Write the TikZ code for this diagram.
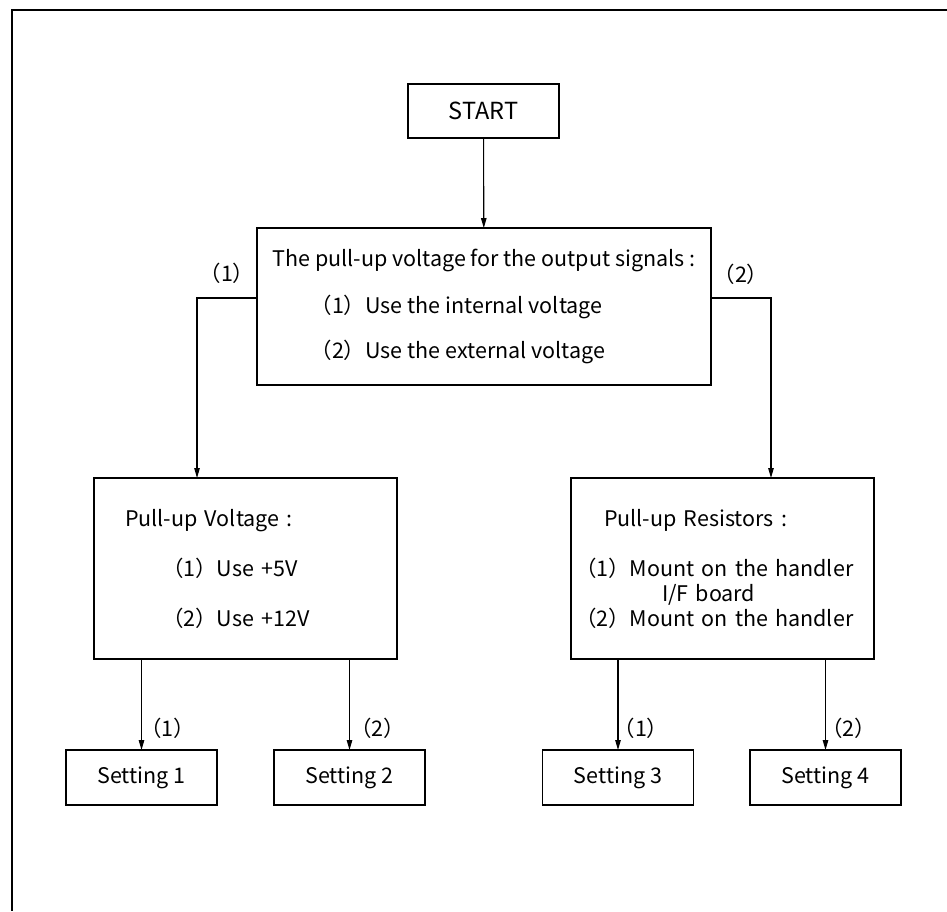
\documentclass[tikz,border=0pt]{standalone}
\usepackage{fontspec}
\setmainfont{Noto Sans CJK JP}
\usetikzlibrary{positioning,arrows.meta,calc}

\begin{document}
\begin{tikzpicture}[x=1pt, y=-1pt,
    every node/.style={font=\fontsize{21.5}{25}\selectfont},
    box/.style={draw, line width=1.4pt, inner sep=0pt, outer sep=0pt, align=left},
    setbox/.style={box, minimum width=151pt, minimum height=55pt},
    arr/.style={-{Triangle[length=10pt,width=5.5pt]}, line width=1.1pt},
    lbl/.style={inner sep=0pt}]
  \useasboundingbox (0,0) rectangle (947,911);
  % Frame
  \draw[line width=2.6pt] (947,10) -- (12,10) -- (12,911);
  % Start and first choice
  \node[box, minimum width=151pt, minimum height=54pt, font=\fontsize{23.5}{28}\selectfont] (start) at (483.5,111) {START};
  \node[box, minimum width=454pt, minimum height=157pt] (pullup) at (484,306.5)
    {The pull-up voltage for the output signals :\\[22pt]
     \hspace*{38pt}（1）Use the internal voltage\\[20pt]
     \hspace*{38pt}（2）Use the external voltage};
  % Second level
  \node[box, minimum width=303pt, minimum height=181pt, text width=241pt] (volt) at (245.5,568.5)
    {Pull-up Voltage :\\[25pt]
     \hspace*{37pt}（1）Use +5V\\[25pt]
     \hspace*{37pt}（2）Use +12V};
  \node[box, minimum width=303pt, minimum height=181pt, text width=295pt] (res) at (722.5,568.5)
    {\hspace*{29pt}Pull-up Resistors :\\[25pt]
     （1）Mount on the handler\\
     \hspace*{87pt}I/F board\\
     （2）Mount on the handler};
  % Settings
  \node[setbox] (set1) at (141.5,777.5) {Setting 1};
  \node[setbox] (set2) at (349.5,777.5) {Setting 2};
  \node[setbox] (set3) at (618,777.5) {Setting 3};
  \node[setbox] (set4) at (825.5,777.5) {Setting 4};
  % Connectors
  \draw[arr] (start) -- (pullup);
  \draw[arr] ([yshift=8.5pt]pullup.west) -| ($(volt.north west)!0.34!(volt.north east)$)
    node[lbl, pos=0.25, yshift=25pt] {（1）};
  \draw[arr] ([yshift=8.5pt]pullup.east) -| ($(res.north west)!0.66!(res.north east)$)
    node[lbl, pos=0.25, yshift=24pt] {（2）};
  \draw[arr] (volt.south -| set1.north) -- (set1.north) node[lbl, pos=0.76, xshift=26pt] {（1）};
  \draw[arr] (volt.south -| set2.north) -- (set2.north) node[lbl, pos=0.76, xshift=28pt] {（2）};
  \draw[arr] (res.south -| set3.north) -- (set3.north) node[lbl, pos=0.76, xshift=23pt] {（1）};
  \draw[arr] (res.south -| set4.north) -- (set4.north) node[lbl, pos=0.76, xshift=23pt] {（2）};
\end{tikzpicture}
\end{document}
